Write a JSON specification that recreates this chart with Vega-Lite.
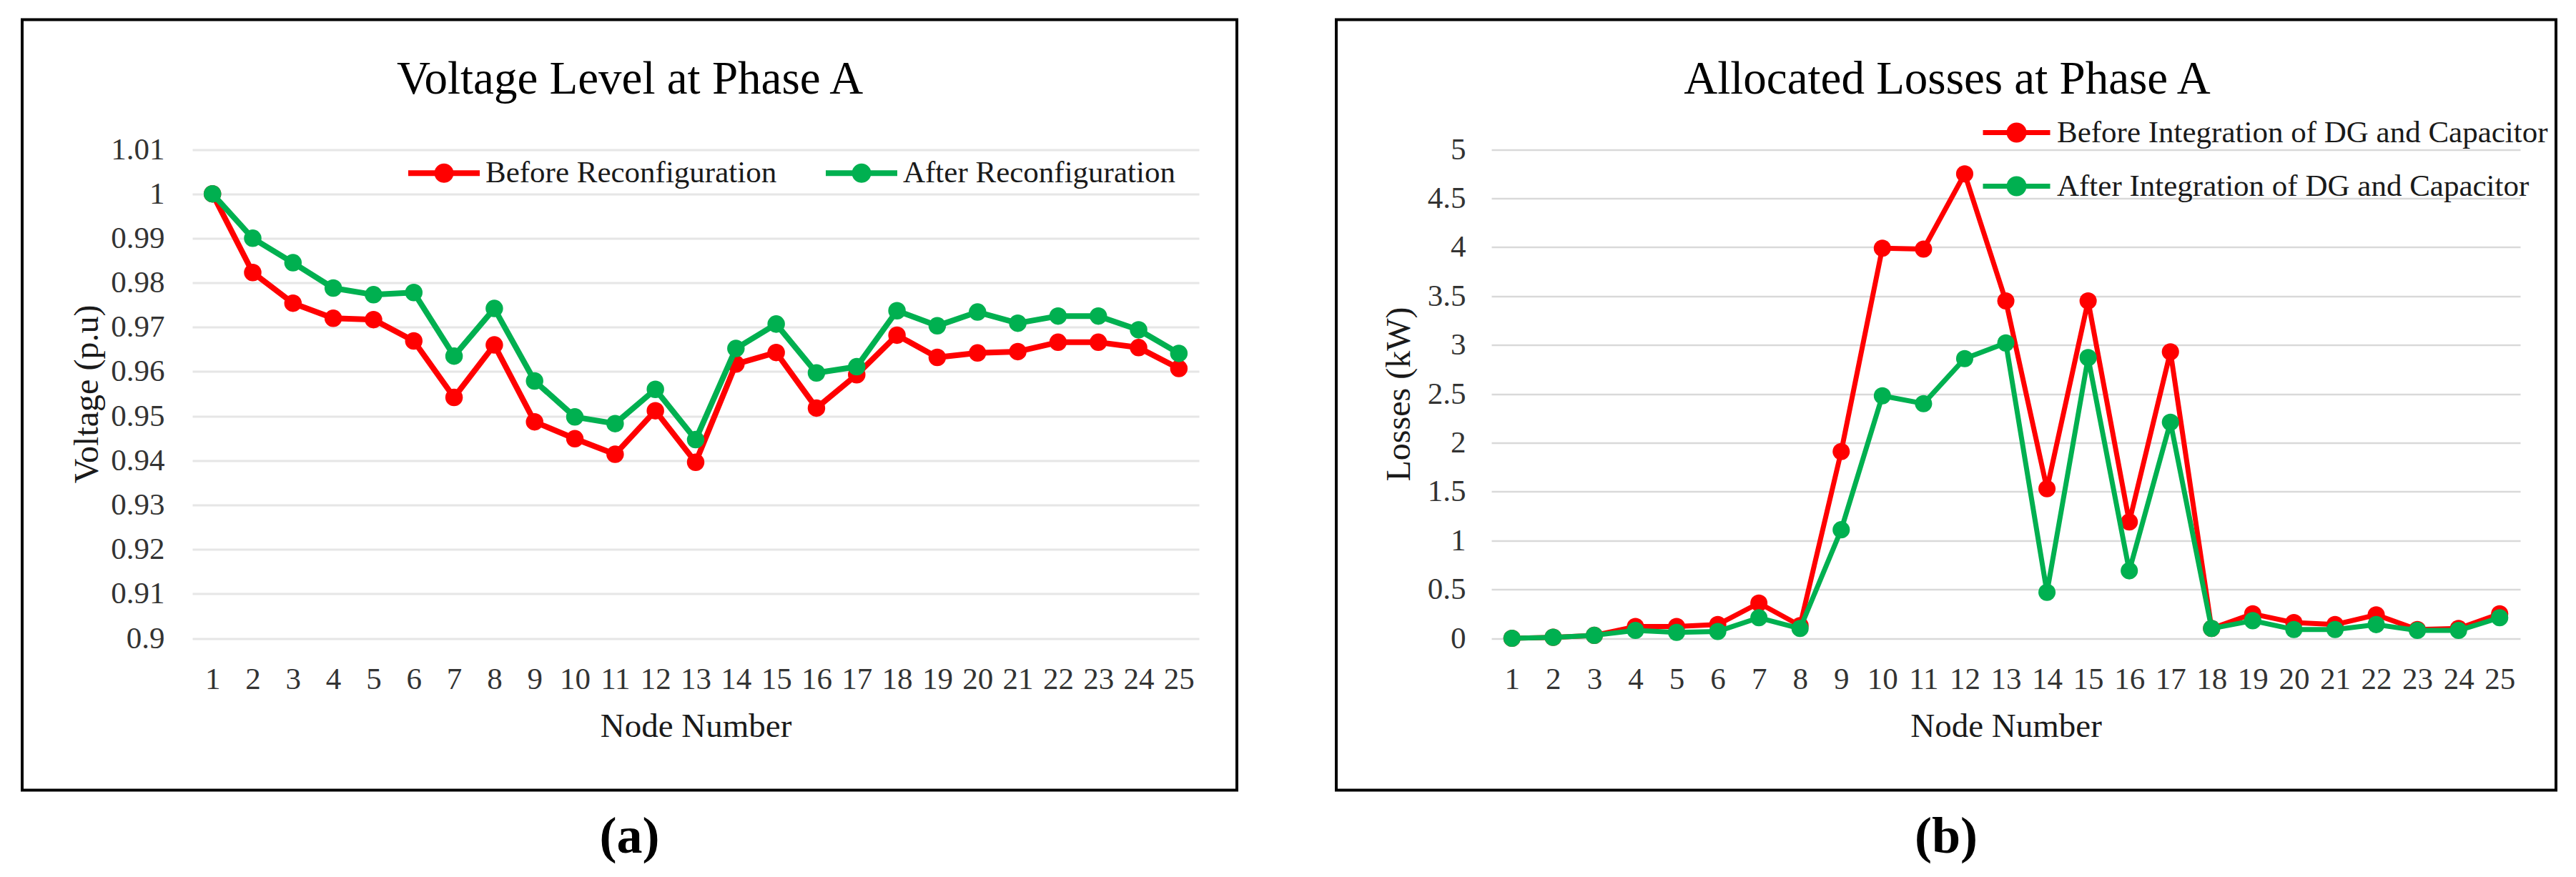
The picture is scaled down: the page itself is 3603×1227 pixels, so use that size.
{
  "$schema": "https://vega.github.io/schema/vega-lite/v6.json",
  "background": "white",
  "padding": {"left": 29, "top": 25.5, "right": 5, "bottom": 5},
  "autosize": {"type": "pad"},
  "spacing": 135,
  "resolve": {"scale": {"color": "independent"}, "legend": {"color": "independent"}},
  "config": {
    "font": "Liberation Serif",
    "view": {"stroke": "#000000", "strokeWidth": 4, "fill": "white"}
  },
  "datasets": {
    "voltage": [
      {"node": 1, "series": "Before Reconfiguration", "value": 1.0},
      {"node": 2, "series": "Before Reconfiguration", "value": 0.9823},
      {"node": 3, "series": "Before Reconfiguration", "value": 0.9754},
      {"node": 4, "series": "Before Reconfiguration", "value": 0.972},
      {"node": 5, "series": "Before Reconfiguration", "value": 0.9717},
      {"node": 6, "series": "Before Reconfiguration", "value": 0.9669},
      {"node": 7, "series": "Before Reconfiguration", "value": 0.9542},
      {"node": 8, "series": "Before Reconfiguration", "value": 0.966},
      {"node": 9, "series": "Before Reconfiguration", "value": 0.9487},
      {"node": 10, "series": "Before Reconfiguration", "value": 0.9449},
      {"node": 11, "series": "Before Reconfiguration", "value": 0.9414},
      {"node": 12, "series": "Before Reconfiguration", "value": 0.9512},
      {"node": 13, "series": "Before Reconfiguration", "value": 0.9396},
      {"node": 14, "series": "Before Reconfiguration", "value": 0.9617},
      {"node": 15, "series": "Before Reconfiguration", "value": 0.9643},
      {"node": 16, "series": "Before Reconfiguration", "value": 0.9518},
      {"node": 17, "series": "Before Reconfiguration", "value": 0.9593},
      {"node": 18, "series": "Before Reconfiguration", "value": 0.9682},
      {"node": 19, "series": "Before Reconfiguration", "value": 0.9632},
      {"node": 20, "series": "Before Reconfiguration", "value": 0.9642},
      {"node": 21, "series": "Before Reconfiguration", "value": 0.9645},
      {"node": 22, "series": "Before Reconfiguration", "value": 0.9666},
      {"node": 23, "series": "Before Reconfiguration", "value": 0.9666},
      {"node": 24, "series": "Before Reconfiguration", "value": 0.9654},
      {"node": 25, "series": "Before Reconfiguration", "value": 0.9607},
      {"node": 1, "series": "After Reconfiguration", "value": 1.0},
      {"node": 2, "series": "After Reconfiguration", "value": 0.99},
      {"node": 3, "series": "After Reconfiguration", "value": 0.9845},
      {"node": 4, "series": "After Reconfiguration", "value": 0.9788},
      {"node": 5, "series": "After Reconfiguration", "value": 0.9773},
      {"node": 6, "series": "After Reconfiguration", "value": 0.9778},
      {"node": 7, "series": "After Reconfiguration", "value": 0.9635},
      {"node": 8, "series": "After Reconfiguration", "value": 0.9742},
      {"node": 9, "series": "After Reconfiguration", "value": 0.9579},
      {"node": 10, "series": "After Reconfiguration", "value": 0.9498},
      {"node": 11, "series": "After Reconfiguration", "value": 0.9483},
      {"node": 12, "series": "After Reconfiguration", "value": 0.956},
      {"node": 13, "series": "After Reconfiguration", "value": 0.9447},
      {"node": 14, "series": "After Reconfiguration", "value": 0.9652},
      {"node": 15, "series": "After Reconfiguration", "value": 0.9707},
      {"node": 16, "series": "After Reconfiguration", "value": 0.9597},
      {"node": 17, "series": "After Reconfiguration", "value": 0.9611},
      {"node": 18, "series": "After Reconfiguration", "value": 0.9737},
      {"node": 19, "series": "After Reconfiguration", "value": 0.9703},
      {"node": 20, "series": "After Reconfiguration", "value": 0.9734},
      {"node": 21, "series": "After Reconfiguration", "value": 0.9709},
      {"node": 22, "series": "After Reconfiguration", "value": 0.9725},
      {"node": 23, "series": "After Reconfiguration", "value": 0.9725},
      {"node": 24, "series": "After Reconfiguration", "value": 0.9694},
      {"node": 25, "series": "After Reconfiguration", "value": 0.9641}
    ],
    "losses": [
      {"node": 1, "series": "Before Integration of DG and Capacitor", "value": 0.0},
      {"node": 2, "series": "Before Integration of DG and Capacitor", "value": 0.01},
      {"node": 3, "series": "Before Integration of DG and Capacitor", "value": 0.03},
      {"node": 4, "series": "Before Integration of DG and Capacitor", "value": 0.12},
      {"node": 5, "series": "Before Integration of DG and Capacitor", "value": 0.12},
      {"node": 6, "series": "Before Integration of DG and Capacitor", "value": 0.14},
      {"node": 7, "series": "Before Integration of DG and Capacitor", "value": 0.36},
      {"node": 8, "series": "Before Integration of DG and Capacitor", "value": 0.13},
      {"node": 9, "series": "Before Integration of DG and Capacitor", "value": 1.91},
      {"node": 10, "series": "Before Integration of DG and Capacitor", "value": 3.99},
      {"node": 11, "series": "Before Integration of DG and Capacitor", "value": 3.98},
      {"node": 12, "series": "Before Integration of DG and Capacitor", "value": 4.75},
      {"node": 13, "series": "Before Integration of DG and Capacitor", "value": 3.45},
      {"node": 14, "series": "Before Integration of DG and Capacitor", "value": 1.53},
      {"node": 15, "series": "Before Integration of DG and Capacitor", "value": 3.45},
      {"node": 16, "series": "Before Integration of DG and Capacitor", "value": 1.19},
      {"node": 17, "series": "Before Integration of DG and Capacitor", "value": 2.93},
      {"node": 18, "series": "Before Integration of DG and Capacitor", "value": 0.1},
      {"node": 19, "series": "Before Integration of DG and Capacitor", "value": 0.25},
      {"node": 20, "series": "Before Integration of DG and Capacitor", "value": 0.16},
      {"node": 21, "series": "Before Integration of DG and Capacitor", "value": 0.14},
      {"node": 22, "series": "Before Integration of DG and Capacitor", "value": 0.24},
      {"node": 23, "series": "Before Integration of DG and Capacitor", "value": 0.09},
      {"node": 24, "series": "Before Integration of DG and Capacitor", "value": 0.1},
      {"node": 25, "series": "Before Integration of DG and Capacitor", "value": 0.25},
      {"node": 1, "series": "After Integration of DG and Capacitor", "value": 0.0},
      {"node": 2, "series": "After Integration of DG and Capacitor", "value": 0.01},
      {"node": 3, "series": "After Integration of DG and Capacitor", "value": 0.03},
      {"node": 4, "series": "After Integration of DG and Capacitor", "value": 0.08},
      {"node": 5, "series": "After Integration of DG and Capacitor", "value": 0.06},
      {"node": 6, "series": "After Integration of DG and Capacitor", "value": 0.07},
      {"node": 7, "series": "After Integration of DG and Capacitor", "value": 0.21},
      {"node": 8, "series": "After Integration of DG and Capacitor", "value": 0.1},
      {"node": 9, "series": "After Integration of DG and Capacitor", "value": 1.11},
      {"node": 10, "series": "After Integration of DG and Capacitor", "value": 2.48},
      {"node": 11, "series": "After Integration of DG and Capacitor", "value": 2.4},
      {"node": 12, "series": "After Integration of DG and Capacitor", "value": 2.86},
      {"node": 13, "series": "After Integration of DG and Capacitor", "value": 3.02},
      {"node": 14, "series": "After Integration of DG and Capacitor", "value": 0.47},
      {"node": 15, "series": "After Integration of DG and Capacitor", "value": 2.87},
      {"node": 16, "series": "After Integration of DG and Capacitor", "value": 0.69},
      {"node": 17, "series": "After Integration of DG and Capacitor", "value": 2.21},
      {"node": 18, "series": "After Integration of DG and Capacitor", "value": 0.1},
      {"node": 19, "series": "After Integration of DG and Capacitor", "value": 0.18},
      {"node": 20, "series": "After Integration of DG and Capacitor", "value": 0.09},
      {"node": 21, "series": "After Integration of DG and Capacitor", "value": 0.09},
      {"node": 22, "series": "After Integration of DG and Capacitor", "value": 0.14},
      {"node": 23, "series": "After Integration of DG and Capacitor", "value": 0.08},
      {"node": 24, "series": "After Integration of DG and Capacitor", "value": 0.08},
      {"node": 25, "series": "After Integration of DG and Capacitor", "value": 0.21}
    ]
  },
  "hconcat": [
    {
      "width": 1699,
      "height": 1078,
      "data": {"name": "voltage"},
      "title": {"text": "(a)", "orient": "bottom", "anchor": "middle", "fontSize": 72, "fontWeight": "bold", "color": "#000000", "baseline": "alphabetic", "offset": 87},
      "layer": [
        {
          "transform": [{"filter": {"field": "series", "equal": "Before Reconfiguration"}}],
          "mark": {"type": "line", "strokeWidth": 8, "strokeJoin": "round", "strokeCap": "round"},
          "encoding": {
            "x": {"field": "node", "type": "ordinal", "scale": {"type": "point", "range": [238, 1646], "padding": 0.5},
              "axis": {"orient": "bottom", "offset": -212.5, "labelAngle": 0, "domain": false, "ticks": false, "tickSize": 0, "grid": false, "labelPadding": 70, "labelBaseline": "alphabetic", "labelFontSize": 43, "labelColor": "#333333", "title": "Node Number", "titleFontSize": 47, "titleFontWeight": "normal", "titleColor": "#1a1a1a", "titleX": 942, "titleY": 137.5, "titleBaseline": "alphabetic", "titleAlign": "center"}},
            "y": {"field": "value", "type": "quantitative", "scale": {"domain": [0.9, 1.01], "range": [865.5, 181.5], "zero": false, "nice": false},
              "axis": {"orient": "left", "offset": -238, "values": [0.9, 0.91, 0.92, 0.93, 0.94, 0.95, 0.96, 0.97, 0.98, 0.99, 1, 1.01], "format": ".2~f", "grid": true, "gridColor": "#e6e6e6", "gridWidth": 3, "domain": false, "ticks": false, "tickSize": 0, "labelPadding": 39, "labelFontSize": 43, "labelColor": "#333333", "title": "Voltage (p.u)", "titleFontSize": 48, "titleFontWeight": "normal", "titleColor": "#1a1a1a", "titleAngle": 270, "titleX": -133, "titleY": 523.5, "titleBaseline": "alphabetic", "titleAlign": "center"}},
            "color": {"field": "series", "type": "nominal", "scale": {"domain": ["Before Reconfiguration", "After Reconfiguration"], "range": ["#ff0000", "#00b050"]},
              "legend": {"orient": "none", "legendX": 536, "legendY": 160.5, "direction": "horizontal", "columns": 2, "title": null, "padding": 0, "symbolType": "M-1,0H1M0.19,0A0.19,0.19,0,1,1,-0.19,0A0.19,0.19,0,1,1,0.19,0M0.06,0A0.06,0.06,0,1,1,-0.06,0A0.06,0.06,0,1,1,0.06,0", "symbolSize": 10000, "symbolStrokeWidth": 8, "labelFontSize": 43, "labelColor": "#1a1a1a", "labelOffset": 4, "labelLimit": 2000, "columnPadding": 52}}
          }
        },
        {
          "transform": [{"filter": {"field": "series", "equal": "Before Reconfiguration"}}],
          "mark": {"type": "point", "filled": true, "size": 600, "opacity": 1},
          "encoding": {
            "x": {"field": "node", "type": "ordinal", "axis": null},
            "y": {"field": "value", "type": "quantitative",
              "axis": {"orient": "left", "offset": -238, "values": [0.9, 0.91, 0.92, 0.93, 0.94, 0.95, 0.96, 0.97, 0.98, 0.99, 1, 1.01], "format": ".2~f", "grid": true, "gridColor": "#e6e6e6", "gridWidth": 3, "domain": false, "ticks": false, "tickSize": 0, "labelPadding": 39, "labelFontSize": 43, "labelColor": "#333333", "title": "Voltage (p.u)", "titleFontSize": 48, "titleFontWeight": "normal", "titleColor": "#1a1a1a", "titleAngle": 270, "titleX": -133, "titleY": 523.5, "titleBaseline": "alphabetic", "titleAlign": "center"}},
            "color": {"field": "series", "type": "nominal",
              "legend": {"orient": "none", "legendX": 536, "legendY": 160.5, "direction": "horizontal", "columns": 2, "title": null, "padding": 0, "symbolType": "M-1,0H1M0.19,0A0.19,0.19,0,1,1,-0.19,0A0.19,0.19,0,1,1,0.19,0M0.06,0A0.06,0.06,0,1,1,-0.06,0A0.06,0.06,0,1,1,0.06,0", "symbolSize": 10000, "symbolStrokeWidth": 8, "labelFontSize": 43, "labelColor": "#1a1a1a", "labelOffset": 4, "labelLimit": 2000, "columnPadding": 52}}
          }
        },
        {
          "transform": [{"filter": {"field": "series", "equal": "After Reconfiguration"}}],
          "mark": {"type": "line", "strokeWidth": 8, "strokeJoin": "round", "strokeCap": "round"},
          "encoding": {
            "x": {"field": "node", "type": "ordinal", "axis": null},
            "y": {"field": "value", "type": "quantitative",
              "axis": {"orient": "left", "offset": -238, "values": [0.9, 0.91, 0.92, 0.93, 0.94, 0.95, 0.96, 0.97, 0.98, 0.99, 1, 1.01], "format": ".2~f", "grid": true, "gridColor": "#e6e6e6", "gridWidth": 3, "domain": false, "ticks": false, "tickSize": 0, "labelPadding": 39, "labelFontSize": 43, "labelColor": "#333333", "title": "Voltage (p.u)", "titleFontSize": 48, "titleFontWeight": "normal", "titleColor": "#1a1a1a", "titleAngle": 270, "titleX": -133, "titleY": 523.5, "titleBaseline": "alphabetic", "titleAlign": "center"}},
            "color": {"field": "series", "type": "nominal",
              "legend": {"orient": "none", "legendX": 536, "legendY": 160.5, "direction": "horizontal", "columns": 2, "title": null, "padding": 0, "symbolType": "M-1,0H1M0.19,0A0.19,0.19,0,1,1,-0.19,0A0.19,0.19,0,1,1,0.19,0M0.06,0A0.06,0.06,0,1,1,-0.06,0A0.06,0.06,0,1,1,0.06,0", "symbolSize": 10000, "symbolStrokeWidth": 8, "labelFontSize": 43, "labelColor": "#1a1a1a", "labelOffset": 4, "labelLimit": 2000, "columnPadding": 52}}
          }
        },
        {
          "transform": [{"filter": {"field": "series", "equal": "After Reconfiguration"}}],
          "mark": {"type": "point", "filled": true, "size": 600, "opacity": 1},
          "encoding": {
            "x": {"field": "node", "type": "ordinal",
              "axis": {"orient": "top", "labels": false, "ticks": false, "domain": false, "grid": false, "title": "Voltage Level at Phase A", "titleFontSize": 65, "titleFontWeight": "normal", "titleColor": "#000000", "titleX": 849.5, "titleY": 102.5, "titleBaseline": "alphabetic", "titleAlign": "center"}},
            "y": {"field": "value", "type": "quantitative",
              "axis": {"orient": "left", "offset": -238, "values": [0.9, 0.91, 0.92, 0.93, 0.94, 0.95, 0.96, 0.97, 0.98, 0.99, 1, 1.01], "format": ".2~f", "grid": true, "gridColor": "#e6e6e6", "gridWidth": 3, "domain": false, "ticks": false, "tickSize": 0, "labelPadding": 39, "labelFontSize": 43, "labelColor": "#333333", "title": "Voltage (p.u)", "titleFontSize": 48, "titleFontWeight": "normal", "titleColor": "#1a1a1a", "titleAngle": 270, "titleX": -133, "titleY": 523.5, "titleBaseline": "alphabetic", "titleAlign": "center"}},
            "color": {"field": "series", "type": "nominal",
              "legend": {"orient": "none", "legendX": 536, "legendY": 160.5, "direction": "horizontal", "columns": 2, "title": null, "padding": 0, "symbolType": "M-1,0H1M0.19,0A0.19,0.19,0,1,1,-0.19,0A0.19,0.19,0,1,1,0.19,0M0.06,0A0.06,0.06,0,1,1,-0.06,0A0.06,0.06,0,1,1,0.06,0", "symbolSize": 10000, "symbolStrokeWidth": 8, "labelFontSize": 43, "labelColor": "#1a1a1a", "labelOffset": 4, "labelLimit": 2000, "columnPadding": 52}}
          }
        }
      ]
    },
    {
      "width": 1706,
      "height": 1078,
      "data": {"name": "losses"},
      "title": {"text": "(b)", "orient": "bottom", "anchor": "middle", "fontSize": 72, "fontWeight": "bold", "color": "#000000", "baseline": "alphabetic", "offset": 87},
      "layer": [
        {
          "transform": [{"filter": {"field": "series", "equal": "Before Integration of DG and Capacitor"}}],
          "mark": {"type": "line", "strokeWidth": 7, "strokeJoin": "round", "strokeCap": "round"},
          "encoding": {
            "x": {"field": "node", "type": "ordinal", "scale": {"type": "point", "range": [217, 1656], "padding": 0.5},
              "axis": {"orient": "bottom", "offset": -212.5, "labelAngle": 0, "domain": false, "ticks": false, "tickSize": 0, "grid": false, "labelPadding": 70, "labelBaseline": "alphabetic", "labelFontSize": 43, "labelColor": "#333333", "title": "Node Number", "titleFontSize": 47, "titleFontWeight": "normal", "titleColor": "#1a1a1a", "titleX": 936.5, "titleY": 137.5, "titleBaseline": "alphabetic", "titleAlign": "center"}},
            "y": {"field": "value", "type": "quantitative", "scale": {"domain": [0, 5], "range": [865.5, 181.5], "zero": false, "nice": false},
              "axis": {"orient": "left", "offset": -217, "values": [0, 0.5, 1, 1.5, 2, 2.5, 3, 3.5, 4, 4.5, 5], "format": ".1~f", "grid": true, "gridColor": "#d9d9d9", "gridWidth": 2.5, "domain": false, "ticks": false, "tickSize": 0, "labelPadding": 36, "labelFontSize": 43, "labelColor": "#333333", "title": "Losses (kW)", "titleFontSize": 48, "titleFontWeight": "normal", "titleColor": "#1a1a1a", "titleAngle": 270, "titleX": -115, "titleY": 523.5, "titleBaseline": "alphabetic", "titleAlign": "center"}},
            "color": {"field": "series", "type": "nominal", "scale": {"domain": ["Before Integration of DG and Capacitor", "After Integration of DG and Capacitor"], "range": ["#ff0000", "#00b050"]},
              "legend": {"orient": "none", "legendX": 901, "legendY": 107.5, "direction": "vertical", "title": null, "padding": 0, "symbolType": "M-1,0H1M0.223,0A0.223,0.223,0,1,1,-0.223,0A0.223,0.223,0,1,1,0.223,0M0.085,0A0.085,0.085,0,1,1,-0.085,0A0.085,0.085,0,1,1,0.085,0M0.03,0A0.03,0.03,0,1,1,-0.03,0A0.03,0.03,0,1,1,0.03,0", "symbolSize": 8836, "symbolStrokeWidth": 7, "labelFontSize": 43, "labelColor": "#1a1a1a", "labelOffset": 6, "labelLimit": 2000, "rowPadding": -4}}
          }
        },
        {
          "transform": [{"filter": {"field": "series", "equal": "Before Integration of DG and Capacitor"}}],
          "mark": {"type": "point", "filled": true, "size": 580, "opacity": 1},
          "encoding": {
            "x": {"field": "node", "type": "ordinal", "axis": null},
            "y": {"field": "value", "type": "quantitative",
              "axis": {"orient": "left", "offset": -217, "values": [0, 0.5, 1, 1.5, 2, 2.5, 3, 3.5, 4, 4.5, 5], "format": ".1~f", "grid": true, "gridColor": "#d9d9d9", "gridWidth": 2.5, "domain": false, "ticks": false, "tickSize": 0, "labelPadding": 36, "labelFontSize": 43, "labelColor": "#333333", "title": "Losses (kW)", "titleFontSize": 48, "titleFontWeight": "normal", "titleColor": "#1a1a1a", "titleAngle": 270, "titleX": -115, "titleY": 523.5, "titleBaseline": "alphabetic", "titleAlign": "center"}},
            "color": {"field": "series", "type": "nominal",
              "legend": {"orient": "none", "legendX": 901, "legendY": 107.5, "direction": "vertical", "title": null, "padding": 0, "symbolType": "M-1,0H1M0.223,0A0.223,0.223,0,1,1,-0.223,0A0.223,0.223,0,1,1,0.223,0M0.085,0A0.085,0.085,0,1,1,-0.085,0A0.085,0.085,0,1,1,0.085,0M0.03,0A0.03,0.03,0,1,1,-0.03,0A0.03,0.03,0,1,1,0.03,0", "symbolSize": 8836, "symbolStrokeWidth": 7, "labelFontSize": 43, "labelColor": "#1a1a1a", "labelOffset": 6, "labelLimit": 2000, "rowPadding": -4}}
          }
        },
        {
          "transform": [{"filter": {"field": "series", "equal": "After Integration of DG and Capacitor"}}],
          "mark": {"type": "line", "strokeWidth": 7, "strokeJoin": "round", "strokeCap": "round"},
          "encoding": {
            "x": {"field": "node", "type": "ordinal", "axis": null},
            "y": {"field": "value", "type": "quantitative",
              "axis": {"orient": "left", "offset": -217, "values": [0, 0.5, 1, 1.5, 2, 2.5, 3, 3.5, 4, 4.5, 5], "format": ".1~f", "grid": true, "gridColor": "#d9d9d9", "gridWidth": 2.5, "domain": false, "ticks": false, "tickSize": 0, "labelPadding": 36, "labelFontSize": 43, "labelColor": "#333333", "title": "Losses (kW)", "titleFontSize": 48, "titleFontWeight": "normal", "titleColor": "#1a1a1a", "titleAngle": 270, "titleX": -115, "titleY": 523.5, "titleBaseline": "alphabetic", "titleAlign": "center"}},
            "color": {"field": "series", "type": "nominal",
              "legend": {"orient": "none", "legendX": 901, "legendY": 107.5, "direction": "vertical", "title": null, "padding": 0, "symbolType": "M-1,0H1M0.223,0A0.223,0.223,0,1,1,-0.223,0A0.223,0.223,0,1,1,0.223,0M0.085,0A0.085,0.085,0,1,1,-0.085,0A0.085,0.085,0,1,1,0.085,0M0.03,0A0.03,0.03,0,1,1,-0.03,0A0.03,0.03,0,1,1,0.03,0", "symbolSize": 8836, "symbolStrokeWidth": 7, "labelFontSize": 43, "labelColor": "#1a1a1a", "labelOffset": 6, "labelLimit": 2000, "rowPadding": -4}}
          }
        },
        {
          "transform": [{"filter": {"field": "series", "equal": "After Integration of DG and Capacitor"}}],
          "mark": {"type": "point", "filled": true, "size": 580, "opacity": 1},
          "encoding": {
            "x": {"field": "node", "type": "ordinal",
              "axis": {"orient": "top", "labels": false, "ticks": false, "domain": false, "grid": false, "title": "Allocated Losses at Phase A", "titleFontSize": 65, "titleFontWeight": "normal", "titleColor": "#000000", "titleX": 854, "titleY": 102.5, "titleBaseline": "alphabetic", "titleAlign": "center"}},
            "y": {"field": "value", "type": "quantitative",
              "axis": {"orient": "left", "offset": -217, "values": [0, 0.5, 1, 1.5, 2, 2.5, 3, 3.5, 4, 4.5, 5], "format": ".1~f", "grid": true, "gridColor": "#d9d9d9", "gridWidth": 2.5, "domain": false, "ticks": false, "tickSize": 0, "labelPadding": 36, "labelFontSize": 43, "labelColor": "#333333", "title": "Losses (kW)", "titleFontSize": 48, "titleFontWeight": "normal", "titleColor": "#1a1a1a", "titleAngle": 270, "titleX": -115, "titleY": 523.5, "titleBaseline": "alphabetic", "titleAlign": "center"}},
            "color": {"field": "series", "type": "nominal",
              "legend": {"orient": "none", "legendX": 901, "legendY": 107.5, "direction": "vertical", "title": null, "padding": 0, "symbolType": "M-1,0H1M0.223,0A0.223,0.223,0,1,1,-0.223,0A0.223,0.223,0,1,1,0.223,0M0.085,0A0.085,0.085,0,1,1,-0.085,0A0.085,0.085,0,1,1,0.085,0M0.03,0A0.03,0.03,0,1,1,-0.03,0A0.03,0.03,0,1,1,0.03,0", "symbolSize": 8836, "symbolStrokeWidth": 7, "labelFontSize": 43, "labelColor": "#1a1a1a", "labelOffset": 6, "labelLimit": 2000, "rowPadding": -4}}
          }
        }
      ]
    }
  ]
}
